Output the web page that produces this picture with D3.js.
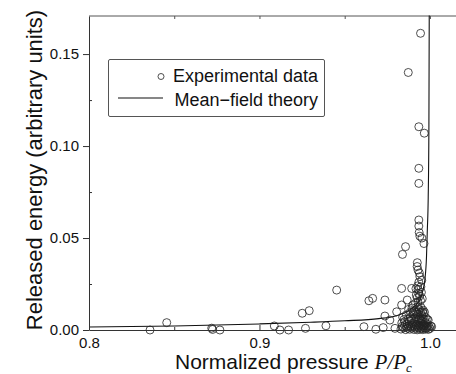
<!DOCTYPE html>
<html>
<head>
<meta charset="utf-8">
<script src="https://cdn.jsdelivr.net/npm/d3@7"></script>
<style>
  html, body { margin: 0; padding: 0; background: #fff; }
  svg { display: block; font-family: "Liberation Sans", Arial, sans-serif; }
</style>
</head>
<body>
<svg id="chart" width="456" height="374"></svg>
<script>
// Experimental data: [P/Pc, released energy]
const experimentalData = [
  [0.8358, 0.0000], [0.8456, 0.0040], [0.8720, 0.0010], [0.8725, 0.0003], [0.8768, 0.0000],
  [0.9087, 0.0022], [0.9120, 0.0000], [0.9171, 0.0000], [0.9251, 0.0091], [0.9292, 0.0105],
  [0.9270, 0.0009], [0.9390, 0.0023], [0.9453, 0.0217], [0.9613, 0.0018], [0.9642, 0.0159],
  [0.9664, 0.0172], [0.9683, 0.0004], [0.9736, 0.0163], [0.9736, 0.0076], [0.9726, 0.0013],
  [0.9795, 0.0009], [0.9839, 0.0411], [0.9857, 0.0453], [0.9834, 0.0226], [0.9893, 0.0226],
  [0.9867, 0.0163], [0.9873, 0.1400], [0.9945, 0.1613], [0.9935, 0.1105], [0.9967, 0.1070],
  [0.9935, 0.0879], [0.9935, 0.0797], [0.9935, 0.0598], [0.9935, 0.0565], [0.9937, 0.0530],
  [0.9941, 0.0510], [0.9953, 0.0500], [0.9965, 0.0470], [0.9926, 0.0366], [0.9930, 0.0326],
  [0.9941, 0.0290], [0.9935, 0.0260], [0.9947, 0.0235], [0.9930, 0.0220], [0.9900, 0.0136],
  [0.9990, 0.0054], [1.0010, 0.0018], [0.9834, 0.0136], [0.9805, 0.0099], [0.9765, 0.0054],
  // dense cluster close to the critical pressure
  [0.9830, 0.0005], [0.9845, 0.0012], [0.9858, 0.0002], [0.9870, 0.0010], [0.9882, 0.0004],
  [0.9893, 0.0014], [0.9905, 0.0003], [0.9915, 0.0011], [0.9925, 0.0001], [0.9934, 0.0013],
  [0.9942, 0.0004], [0.9950, 0.0010], [0.9958, 0.0002], [0.9966, 0.0012], [0.9974, 0.0005],
  [0.9982, 0.0011], [0.9990, 0.0003], [1.0000, 0.0008],
  [0.9838, 0.0020], [0.9852, 0.0024], [0.9864, 0.0017], [0.9876, 0.0022], [0.9888, 0.0019],
  [0.9899, 0.0025], [0.9910, 0.0016], [0.9920, 0.0023], [0.9929, 0.0018], [0.9938, 0.0025],
  [0.9946, 0.0017], [0.9954, 0.0022], [0.9962, 0.0019], [0.9970, 0.0024], [0.9978, 0.0016],
  [0.9986, 0.0021], [0.9995, 0.0018], [1.0005, 0.0022],
  [0.9835, 0.0038], [0.9852, 0.0045], [0.9866, 0.0032], [0.9880, 0.0048], [0.9898, 0.0036],
  [0.9910, 0.0044], [0.9922, 0.0030], [0.9932, 0.0050], [0.9944, 0.0035], [0.9955, 0.0046],
  [0.9963, 0.0031], [0.9972, 0.0042], [0.9980, 0.0034],
  [0.9848, 0.0057], [0.9872, 0.0060], [0.9890, 0.0055], [0.9906, 0.0061], [0.9920, 0.0056],
  [0.9936, 0.0059], [0.9948, 0.0055], [0.9958, 0.0060], [0.9968, 0.0057], [0.9984, 0.0058],
  [0.9840, 0.0070], [0.9862, 0.0082], [0.9885, 0.0066], [0.9902, 0.0088], [0.9918, 0.0072],
  [0.9930, 0.0085], [0.9940, 0.0064], [0.9952, 0.0078], [0.9962, 0.0090], [0.9975, 0.0068],
  [0.9885, 0.0097], [0.9905, 0.0100], [0.9922, 0.0095], [0.9935, 0.0099], [0.9945, 0.0096],
  [0.9956, 0.0100], [0.9968, 0.0097],
  [0.9875, 0.0112], [0.9895, 0.0120], [0.9912, 0.0105], [0.9928, 0.0126], [0.9938, 0.0110],
  [0.9948, 0.0122], [0.9960, 0.0108],
  [0.9915, 0.0145], [0.9930, 0.0152], [0.9945, 0.0160], [0.9925, 0.0175], [0.9940, 0.0185],
  [0.9955, 0.0170], [0.9935, 0.0198], [0.9920, 0.0190], [0.9918, 0.0225], [0.9950, 0.0205],
  [0.9928, 0.0240], [0.9952, 0.0270], [0.9938, 0.0310], [0.9925, 0.0345]
];

// Mean-field theory curve: [P/Pc, released energy]
const theoryCurve = [
  [0.800, 0.0016], [0.850, 0.0022], [0.900, 0.0033], [0.930, 0.0042], [0.950, 0.0050],
  [0.970, 0.0062], [0.980, 0.0076], [0.9865, 0.0100], [0.991, 0.0130], [0.994, 0.0163],
  [0.996, 0.0220], [0.997, 0.0270], [0.998, 0.0400], [0.9985, 0.0550], [0.999, 0.0720],
  [0.9994, 0.1100], [0.9996, 0.1710]
];

const xTicks = [0.8, 0.9, 1.0];
const xMinorTicks = [0.85, 0.95];
const yTicks = [0, 0.05, 0.10, 0.15];
const yMinorTicks = [0.025, 0.075, 0.125];
const legendLabels = ["Experimental data", "Mean\u2212field theory"];

const svg = d3.select("#chart");
const axisColor = "#333";

const x = d3.scaleLinear().domain([0.8, 1.0153]).range([89, 456]);
const y = d3.scaleLinear().domain([0, 0.1707]).range([330, 16]);

// top border
svg.append("line")
  .attr("x1", x.range()[0]).attr("x2", x.range()[1])
  .attr("y1", y.range()[1]).attr("y2", y.range()[1])
  .attr("stroke", "#555").attr("stroke-width", 1);

// top minor ticks
svg.append("g")
  .attr("transform", `translate(0,${y.range()[1]})`)
  .call(d3.axisTop(x).tickValues([0.85, 0.9, 0.95, 1.0]).tickSize(-3).tickFormat(""))
  .call(g => g.select(".domain").remove())
  .call(g => g.selectAll("line").attr("stroke", "#555"));

// theory curve
const line = d3.line()
  .x(d => x(d[0]))
  .y(d => y(d[1]))
  .curve(d3.curveMonotoneX);

svg.append("path")
  .datum(theoryCurve)
  .attr("d", line)
  .attr("fill", "none")
  .attr("stroke", "#111")
  .attr("stroke-width", 1.1);

// experimental points
svg.append("g")
  .selectAll("circle")
  .data(experimentalData)
  .join("circle")
  .attr("cx", d => x(d[0]))
  .attr("cy", d => y(d[1]))
  .attr("r", 4)
  .attr("fill", "none")
  .attr("stroke", "#222")
  .attr("stroke-width", 0.8);

// x axis
const xAxis = svg.append("g")
  .attr("transform", `translate(0,${y(0)})`)
  .call(d3.axisBottom(x).tickValues(xTicks).tickSizeInner(-5).tickSizeOuter(0)
    .tickPadding(7).tickFormat(d3.format(".1f")));
xAxis.selectAll("text").style("font-size", "15px").attr("fill", "#111");
xAxis.selectAll("line, path").attr("stroke", axisColor);

svg.append("g")
  .attr("transform", `translate(0,${y(0)})`)
  .call(d3.axisBottom(x).tickValues(xMinorTicks).tickSize(-3).tickFormat(""))
  .call(g => g.select(".domain").remove())
  .call(g => g.selectAll("line").attr("stroke", axisColor));

// y axis
const yAxis = svg.append("g")
  .attr("transform", `translate(${x(0.8)},0)`)
  .call(d3.axisLeft(y).tickValues(yTicks).tickSizeInner(6).tickSizeOuter(0)
    .tickPadding(4).tickFormat(d3.format(".2f")));
yAxis.selectAll("text").style("font-size", "15px").attr("fill", "#111");
yAxis.selectAll("line, path").attr("stroke", axisColor);

svg.append("g")
  .attr("transform", `translate(${x(0.8)},0)`)
  .call(d3.axisLeft(y).tickValues(yMinorTicks).tickSize(-3).tickFormat(""))
  .call(g => g.select(".domain").remove())
  .call(g => g.selectAll("line").attr("stroke", axisColor));

// axis titles
svg.append("text")
  .attr("transform", `translate(42,170) rotate(-90)`)
  .attr("text-anchor", "middle")
  .style("font-size", "22px")
  .attr("fill", "#111")
  .text("Released energy (arbitrary units)");

const xTitle = svg.append("text")
  .attr("x", 175)
  .attr("y", 369)
  .style("font-size", "21px")
  .attr("fill", "#111");
xTitle.append("tspan").text("Normalized pressure ");
xTitle.append("tspan")
  .style("font-family", "'Liberation Serif', 'Times New Roman', serif")
  .style("font-style", "italic")
  .text("P/P");
xTitle.append("tspan")
  .style("font-family", "'Liberation Serif', 'Times New Roman', serif")
  .style("font-style", "italic")
  .style("font-size", "13px")
  .attr("dy", 3)
  .text("c");

// legend
const legend = svg.append("g");
legend.append("rect")
  .attr("x", 108.5).attr("y", 59.5)
  .attr("width", 216).attr("height", 57)
  .attr("rx", 1.5)
  .attr("fill", "#fff")
  .attr("stroke", "#555")
  .attr("stroke-width", 1);

legend.append("circle")
  .attr("cx", 161).attr("cy", 76.5).attr("r", 3)
  .attr("fill", "none").attr("stroke", "#222").attr("stroke-width", 0.8);
legend.append("line")
  .attr("x1", 118).attr("x2", 163)
  .attr("y1", 98).attr("y2", 98)
  .attr("stroke", "#111").attr("stroke-width", 1.1);

legend.selectAll("text.legend-label")
  .data(legendLabels)
  .join("text")
  .attr("class", "legend-label")
  .attr("x", 318)
  .attr("y", (d, i) => 82 + i * 24)
  .attr("text-anchor", "end")
  .style("font-size", "18px")
  .attr("fill", "#111")
  .text(d => d);
</script>
</body>
</html>
